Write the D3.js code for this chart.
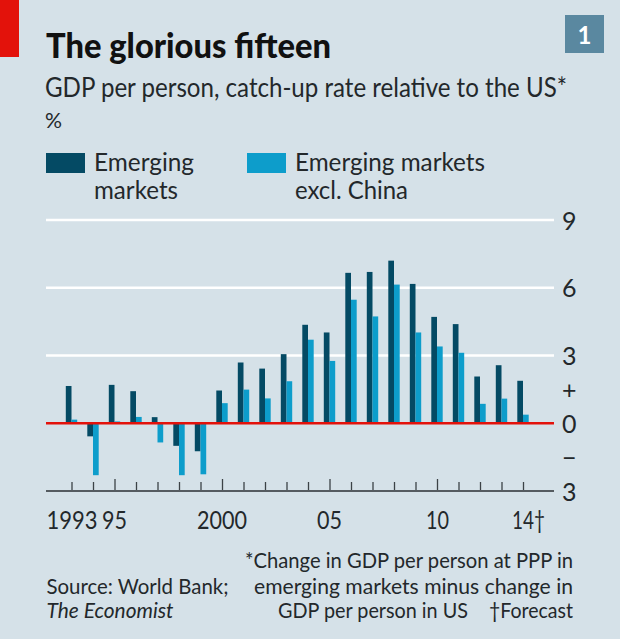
<!DOCTYPE html>
<html>
<head>
<meta charset="utf-8">
<script src="https://cdnjs.cloudflare.com/ajax/libs/d3/7.8.5/d3.min.js"></script>
<style>
  html, body { margin: 0; padding: 0; background: #d5e1e8; }
  svg { display: block; }
  text { font-family: "Lato", "Open Sans", sans-serif; fill: #23282b; }
</style>
</head>
<body>
<div id="chart"></div>
<script>
const years = d3.range(1993, 2015);
const emerging = [1.65, -0.58, 1.7, 1.42, 0.27, -1.0, -1.24, 1.45, 2.69, 2.42, 3.06, 4.36, 4.02, 6.66, 6.7, 7.2, 6.17, 4.71, 4.39, 2.07, 2.57, 1.88];
const exChina = [0.16, -2.3, 0.08, 0.28, -0.85, -2.3, -2.26, 0.89, 1.49, 1.1, 1.86, 3.7, 2.76, 5.47, 4.73, 6.14, 4.02, 3.4, 3.12, 0.86, 1.09, 0.38];
const gridValues = [3, 6, 9];
const yTickValues = [9, 6, 3, 1.5, 0, -1.5, -3];
const yTickLabels = ["9", "6", "3", "+", "0", "\u2212", "3"];
const majorYears = [1995, 2000, 2005, 2010];

const w = 620, h = 639;
const dark = "#044a64", light = "#0d9dcb", red = "#e3120b";
const left = 46, right = 554;

const svg = d3.select("#chart").append("svg").attr("width", w).attr("height", h);
svg.append("rect").attr("width", w).attr("height", h).attr("fill", "#d5e1e8");

const x = d3.scaleLinear().domain([1993, 2014]).range([71.5, 523]);
const y = d3.scaleLinear().domain([-3, 9]).range([491, 220]);
const barW = 5.7;

// the font is wider than the original, so squeeze each text to its measured width
const label = (lx, ly, t, size, width) => svg.append("text")
  .attr("x", lx).attr("y", ly)
  .attr("textLength", width).attr("lengthAdjust", "spacingAndGlyphs")
  .style("font-size", size + "px")
  .text(t);

// header
svg.append("rect").attr("width", 19).attr("height", 57).attr("fill", red);
svg.append("rect").attr("x", 565).attr("y", 15).attr("width", 39).attr("height", 38).attr("fill", "#5a88a0");
svg.append("text").attr("x", 584.5).attr("y", 44).attr("text-anchor", "middle")
  .style("font-size", "24px").style("font-weight", 700).style("fill", "#fff").text("1");
label(46, 58, "The glorious fifteen", 35, 285).style("font-weight", 900).style("fill", "#111");
label(45, 97, "GDP per person, catch-up rate relative to the US*", 26, 522);
label(45, 128, "%", 22, 17);

// legend
const legend = [
  { lx: 46, color: dark, lines: [["Emerging", 100], ["markets", 84]] },
  { lx: 247, color: light, lines: [["Emerging markets", 190], ["excl. China", 113]] }
];
legend.forEach(d => {
  svg.append("rect").attr("x", d.lx).attr("y", 153).attr("width", 39).attr("height", 20).attr("fill", d.color);
  d.lines.forEach((t, i) => label(d.lx + 48, 171 + i * 28, t[0], 25, t[1]));
});

// gridlines
svg.selectAll("line.grid").data(gridValues).enter().append("line")
  .attr("class", "grid")
  .attr("x1", left).attr("x2", right)
  .attr("y1", d => y(d)).attr("y2", d => y(d))
  .attr("stroke", "#fff").attr("stroke-width", 2.4);

// bars
svg.selectAll("rect.emerging").data(emerging).enter().append("rect")
  .attr("class", "emerging")
  .attr("x", (d, i) => x(years[i]) - barW)
  .attr("y", d => y(Math.max(d, 0)))
  .attr("width", barW)
  .attr("height", d => Math.abs(y(d) - y(0)))
  .attr("fill", dark);
svg.selectAll("rect.exchina").data(exChina).enter().append("rect")
  .attr("class", "exchina")
  .attr("x", (d, i) => x(years[i]))
  .attr("y", d => y(Math.max(d, 0)))
  .attr("width", barW)
  .attr("height", d => Math.abs(y(d) - y(0)))
  .attr("fill", light);

// zero line
svg.append("line").attr("x1", left).attr("x2", right).attr("y1", y(0)).attr("y2", y(0))
  .attr("stroke", red).attr("stroke-width", 2.5);

// y axis labels
const yAxis = d3.axisRight(y).tickValues(yTickValues)
  .tickFormat((d, i) => yTickLabels[i]).tickSize(0).tickPadding(0);
const yG = svg.append("g").attr("transform", `translate(${right + 8},0)`).call(yAxis);
yG.select(".domain").remove();
yG.selectAll("text").style("font-size", "25px").attr("dy", "0.36em");

// x axis
const xAxis = d3.axisBottom(x).tickValues(years).tickFormat("").tickSizeOuter(0).tickSizeInner(0);
const xG = svg.append("g").attr("transform", `translate(0,${y(-3)})`).call(xAxis);
xG.select(".domain").remove();
xG.append("line").attr("x1", left).attr("x2", right).attr("stroke", "#555b60").attr("stroke-width", 2);
xG.selectAll(".tick line")
  .attr("y2", d => majorYears.includes(d) ? -12 : -9)
  .attr("stroke", "#3c4246").attr("stroke-width", 1.3);

// year labels
label(46.5, 529, "1993", 25, 51);
label(102, 529, "95", 25, 25);
label(197, 529, "2000", 25, 50);
label(317, 529, "05", 25, 25);
label(426, 529, "10", 25, 23);
label(512, 529, "14\u2020", 25, 33);

// footer
label(46.5, 594, "Source: World Bank;", 21, 182);
label(46.5, 618, "The Economist", 21, 127).style("font-style", "italic");
label(245, 568, "*Change in GDP per person at PPP in", 21, 328);
label(254, 594, "emerging markets minus change in", 21, 319);
label(278, 618, "GDP per person in US", 21, 190);
label(489, 618, "\u2020Forecast", 21, 84);
</script>
</body>
</html>
